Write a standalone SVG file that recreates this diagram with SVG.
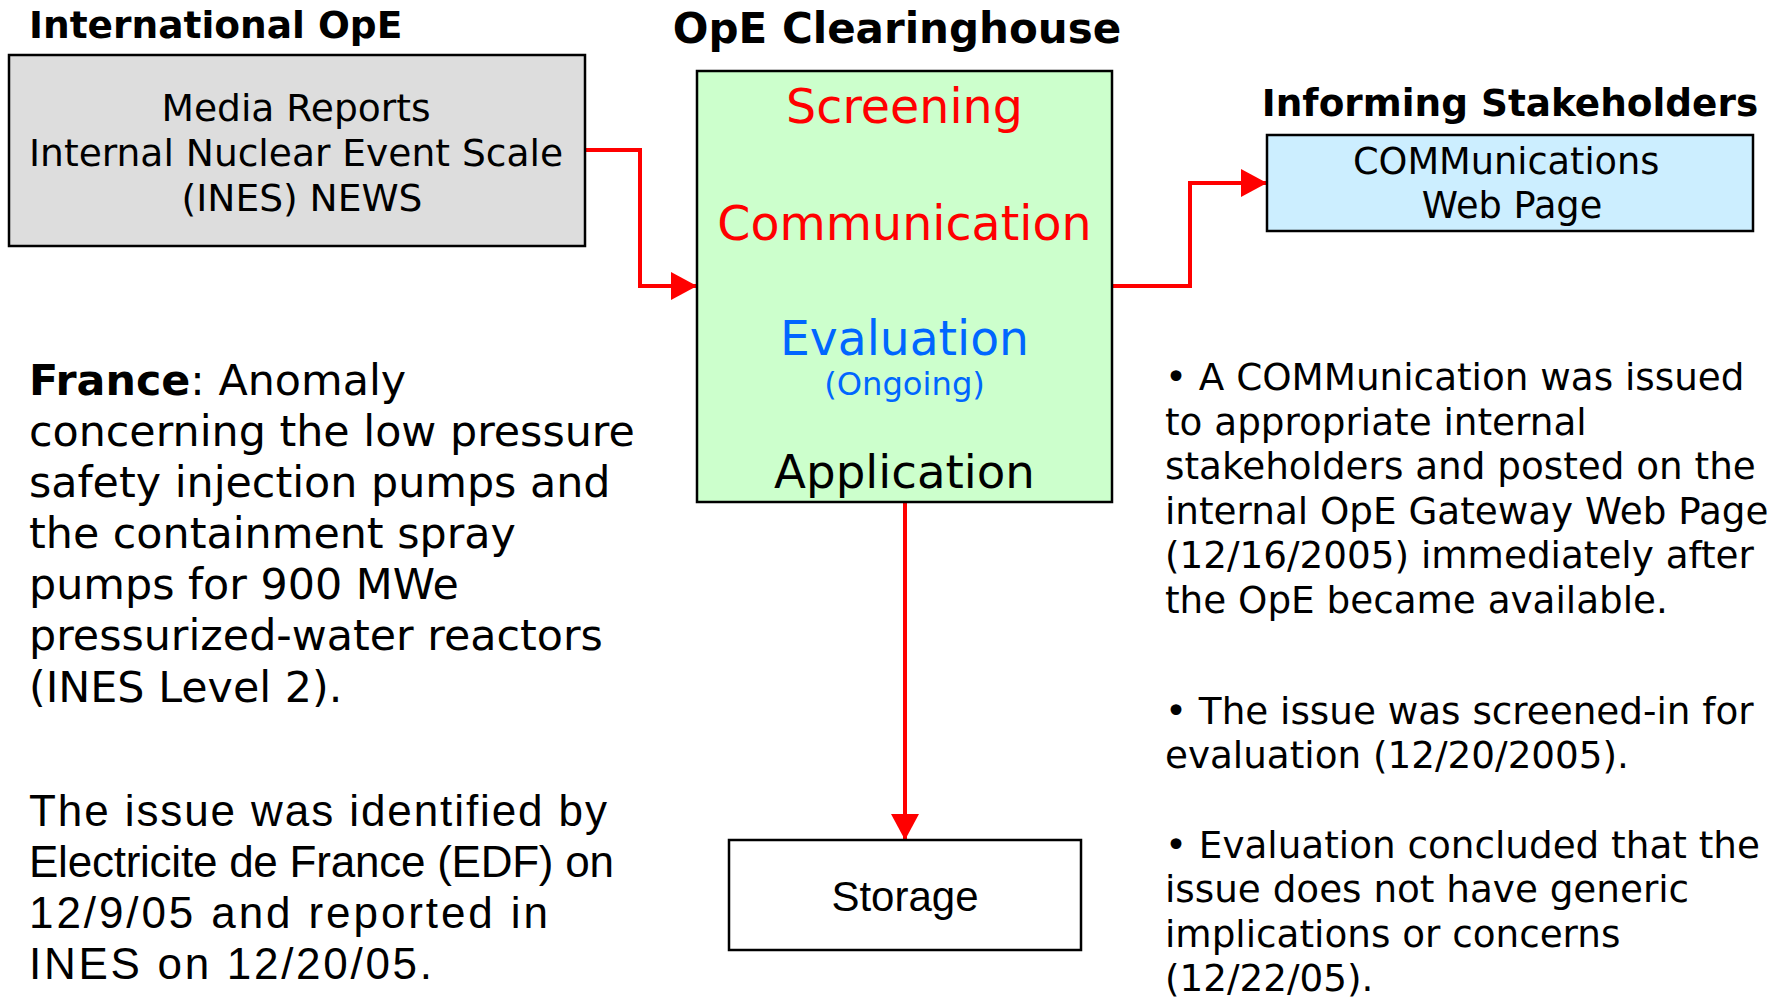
<svg xmlns="http://www.w3.org/2000/svg" width="1789" height="999" viewBox="0 0 1789 999">
<style>
.t{font-family:"DejaVu Sans","Liberation Sans",sans-serif;fill:#000}
.b{font-family:"DejaVu Sans","Liberation Sans",sans-serif;font-weight:bold;fill:#000}
.n{font-family:"Liberation Sans",Arial,sans-serif;fill:#000}
.box{stroke:#000;stroke-width:2.5}
.conn{fill:none;stroke:#ff0000;stroke-width:4}
.red{fill:#ff0000}
.blue{fill:#0066ff}
</style>
<defs>
<marker id="ah" markerUnits="userSpaceOnUse" markerWidth="26" markerHeight="28" refX="26" refY="14" orient="auto">
<path d="M0,0 L26,14 L0,28 z" fill="#ff0000"/>
</marker>
</defs>
<rect width="1789" height="999" fill="#fff"/>

<g id="title-international">
<text class="b" x="29" y="38" font-size="37.5">International OpE</text>
</g>
<g id="title-clearinghouse">
<text class="b" x="897" y="43" font-size="42" text-anchor="middle">OpE Clearinghouse</text>
</g>
<g id="title-stakeholders">
<text class="b" x="1510" y="116" font-size="37.4" text-anchor="middle">Informing Stakeholders</text>
</g>

<g id="connectors">
<path class="conn" d="M585,150 H640 V286 H697" marker-end="url(#ah)"/>
<path class="conn" d="M1112,286 H1190 V183 H1267" marker-end="url(#ah)"/>
<path class="conn" d="M905,502 V840" marker-end="url(#ah)"/>
</g>

<g id="node-international">
<rect class="box" x="9" y="55" width="576" height="191" fill="#dddddd"/>
<text class="t" font-size="37.6" text-anchor="middle">
<tspan x="302" y="121">Media Reports</tspan>
<tspan x="302" y="166">Internal Nuclear Event Scale</tspan>
<tspan x="302" y="211">(INES) NEWS</tspan>
</text>
</g>

<g id="node-clearinghouse">
<rect class="box" x="697" y="71" width="415" height="431" fill="#ccffcc"/>
<text class="t red" x="904.5" y="123" font-size="47.5" text-anchor="middle">Screening</text>
<text class="t red" x="904.5" y="240" font-size="47.5" text-anchor="middle">Communication</text>
<text class="t blue" x="904.5" y="355" font-size="47.2" text-anchor="middle">Evaluation</text>
<text class="t blue" x="904.5" y="395" font-size="32.2" text-anchor="middle">(Ongoing)</text>
<text class="t" x="904.5" y="488" font-size="46.7" text-anchor="middle">Application</text>
</g>

<g id="node-web">
<rect class="box" x="1267" y="135" width="486" height="96" fill="#cceeff"/>
<text class="t" font-size="36.7" text-anchor="middle">
<tspan x="1512" y="174">COMMunications</tspan>
<tspan x="1512" y="218">Web Page</tspan>
</text>
</g>

<g id="node-storage">
<rect class="box" x="729" y="840" width="352" height="110" fill="#ffffff"/>
<text class="n" x="905" y="911" font-size="42" text-anchor="middle">Storage</text>
</g>

<g id="text-france">
<text class="t" font-size="42.8">
<tspan x="29" y="395"><tspan font-weight="bold">France</tspan>: Anomaly</tspan>
<tspan x="29" y="446">concerning the low pressure</tspan>
<tspan x="29" y="497">safety injection pumps and</tspan>
<tspan x="29" y="548">the containment spray</tspan>
<tspan x="29" y="599">pumps for 900 MWe</tspan>
<tspan x="29" y="650">pressurized-water reactors</tspan>
<tspan x="29" y="702">(INES Level 2).</tspan>
</text>
</g>

<g id="text-edf">
<text class="n" x="29" y="826" font-size="44" textLength="578">The issue was identified by</text>
<text class="n" x="29" y="877" font-size="44" textLength="585">Electricite de France (EDF) on</text>
<text class="n" x="29" y="928" font-size="44" textLength="519">12/9/05 and reported in</text>
<text class="n" x="29" y="979" font-size="44" textLength="403">INES on 12/20/05.</text>
</g>

<g id="text-notes">
<text class="t" font-size="37.3">
<tspan x="1165" y="390">• A COMMunication was issued</tspan>
<tspan x="1165" y="435">to appropriate internal</tspan>
<tspan x="1165" y="479">stakeholders and posted on the</tspan>
<tspan x="1165" y="524">internal OpE Gateway Web Page</tspan>
<tspan x="1165" y="568">(12/16/2005) immediately after</tspan>
<tspan x="1165" y="613">the OpE became available.</tspan>
<tspan x="1165" y="724">• The issue was screened-in for</tspan>
<tspan x="1165" y="768">evaluation (12/20/2005).</tspan>
<tspan x="1165" y="858">• Evaluation concluded that the</tspan>
<tspan x="1165" y="902">issue does not have generic</tspan>
<tspan x="1165" y="947">implications or concerns</tspan>
<tspan x="1165" y="991">(12/22/05).</tspan>
</text>
</g>
</svg>
